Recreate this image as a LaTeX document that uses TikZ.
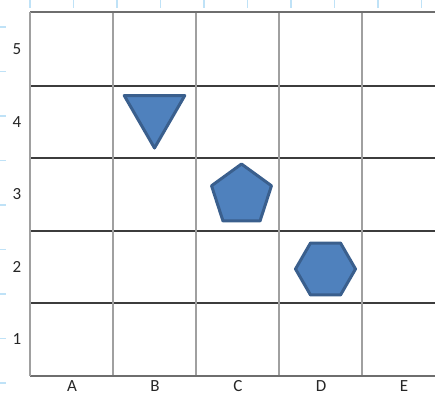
\documentclass[tikz,border=0pt]{standalone}
\usepackage{fontspec}
\setmainfont{Carlito}
\usetikzlibrary{shapes.geometric}
\definecolor{gdFill}{HTML}{4F81BD}
\definecolor{gdEdge}{HTML}{3A5F8D}
\definecolor{gdRule}{HTML}{BFE2F7}
\definecolor{gdRow}{HTML}{3C3C3C}
\definecolor{gdCol}{HTML}{A0A0A0}
\definecolor{gdFrame}{HTML}{6E6E6E}
\tikzset{
  shapebox/.style={
    draw=gdEdge, fill=gdFill, line width=3pt, line join=round,
    regular polygon, inner sep=0pt
  },
  rowline/.style={line width=1.1pt, gdRow},
  colline/.style={line width=1.3pt, gdCol},
  frameline/.style={line width=1.6pt, gdFrame},
  ruletick/.style={line width=1.6pt, gdRule},
  axislabel/.style={font=\fontsize{17}{19}\selectfont, text=black!85, inner sep=0pt}
}
\begin{document}
\begin{tikzpicture}[x=1pt, y=-1pt]
  \useasboundingbox (0,0) rectangle (435,396);
  % ruler ticks
  \foreach \k in {0,...,9}
    \draw[ruletick] (30+43.5*\k,0) -- (30+43.5*\k,8);
  \foreach \k in {0,...,8}
    \draw[ruletick] (0,27+44.5*\k) -- (6,27+44.5*\k);
  % grid
  \foreach \y in {86,158,231,303}
    \draw[rowline] (30,\y) -- (435,\y);
  \foreach \x in {113,196,279,362}
    \draw[colline] (\x,12) -- (\x,376);
  \draw[frameline] (30,12) -- (435,12);
  \draw[frameline] (30,376) -- (435,376);
  \draw[colline, line width=1.6pt] (30,12) -- (30,376);
  % row and column labels
  \foreach \n/\y in {5/49,4/122,3/194,2/267,1/339}
    \node[axislabel] (row\n) at (17,\y) {\n};
  \foreach \c/\x in {A/72,B/155,C/238,D/321,E/404}
    \node[axislabel, anchor=south] (col\c) at (\x,392) {\c};
  % shapes
  \node[shapebox, regular polygon sides=3, shape border rotate=180,
        minimum size=70pt] (tri) at (154.5,113) {};
  \node[shapebox, regular polygon sides=5, minimum size=63pt] (pent) at (241.5,195.5) {};
  \node[shapebox, regular polygon sides=6, minimum size=60pt] (hex) at (325.5,269) {};
\end{tikzpicture}
\end{document}
